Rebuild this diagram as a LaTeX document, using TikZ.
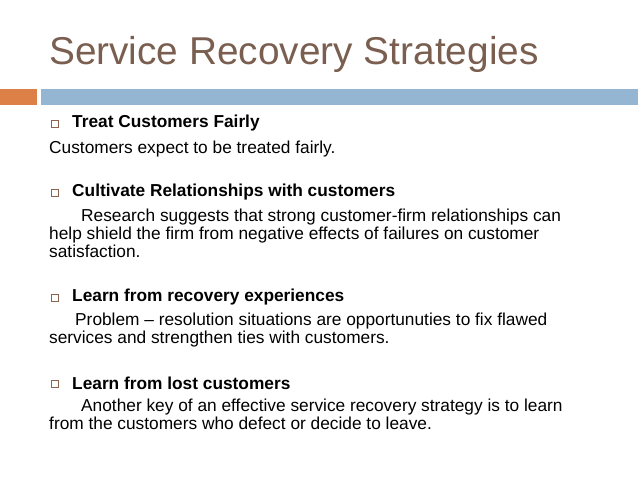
\documentclass[tikz,border=0pt]{standalone}
\usepackage{fontspec}
\setmainfont{Liberation Sans}
\usetikzlibrary{positioning}
\definecolor{titlebrown}{HTML}{7A5F50}
\definecolor{barorange}{HTML}{DD8047}
\definecolor{barblue}{HTML}{94B6D2}
\definecolor{bulletbrown}{HTML}{8C6450}
\tikzset{
  head/.style={anchor=west,inner sep=0pt,font=\fontsize{17.3}{18}\selectfont\bfseries},
  body/.style={anchor=north west,inner sep=0pt,align=left,font=\fontsize{17.3}{18}\selectfont},
  bullet/.style={draw=bulletbrown,line width=0.7pt,minimum size=7pt,inner sep=0pt},
}
\begin{document}
\begin{tikzpicture}[x=1pt,y=-1pt]
        \useasboundingbox (0,0) rectangle (638,479);
        \node[anchor=west,inner sep=0pt,text=titlebrown,font=\fontsize{38.8}{40}\selectfont] (title) at (49,54) {Service Recovery Strategies};
        \fill[barorange] (0,89) rectangle (37,105);
        \fill[barblue] (41,89) rectangle (638,105);

        % first point
        \node[bullet] (b1) at (55,124) {};
        \node[head] (h1) at (72,123) {Treat Customers Fairly};
        \node[body] (t1) at (49,141) {Customers expect to be treated fairly.};

        % second point
        \node[bullet] (b2) at (55,193) {};
        \node[head] (h2) at (72,192) {Cultivate Relationships with customers};
        \node[body] (t2) at (49,209) {\hspace{32pt}Research suggests that strong customer-firm relationships can\\
          help shield the firm from negative effects of failures on customer\\
          satisfaction.};

        % third point
        \node[bullet] (b3) at (55,298) {};
        \node[head] (h3) at (72,297) {Learn from recovery experiences};
        \node[body] (t3) at (49,313) {\hspace{26pt}Problem -- resolution situations are opportunuties to fix flawed\\
          services and strengthen ties with customers.};

        % fourth point
        \node[bullet] (b4) at (55,384) {};
        \node[head] (h4) at (72,383) {Learn from lost customers};
        \node[body] (t4) at (49,399) {\hspace{32pt}Another key of an effective service recovery strategy is to learn\\
          from the customers who defect or decide to leave.};
      \end{tikzpicture}
\end{document}
